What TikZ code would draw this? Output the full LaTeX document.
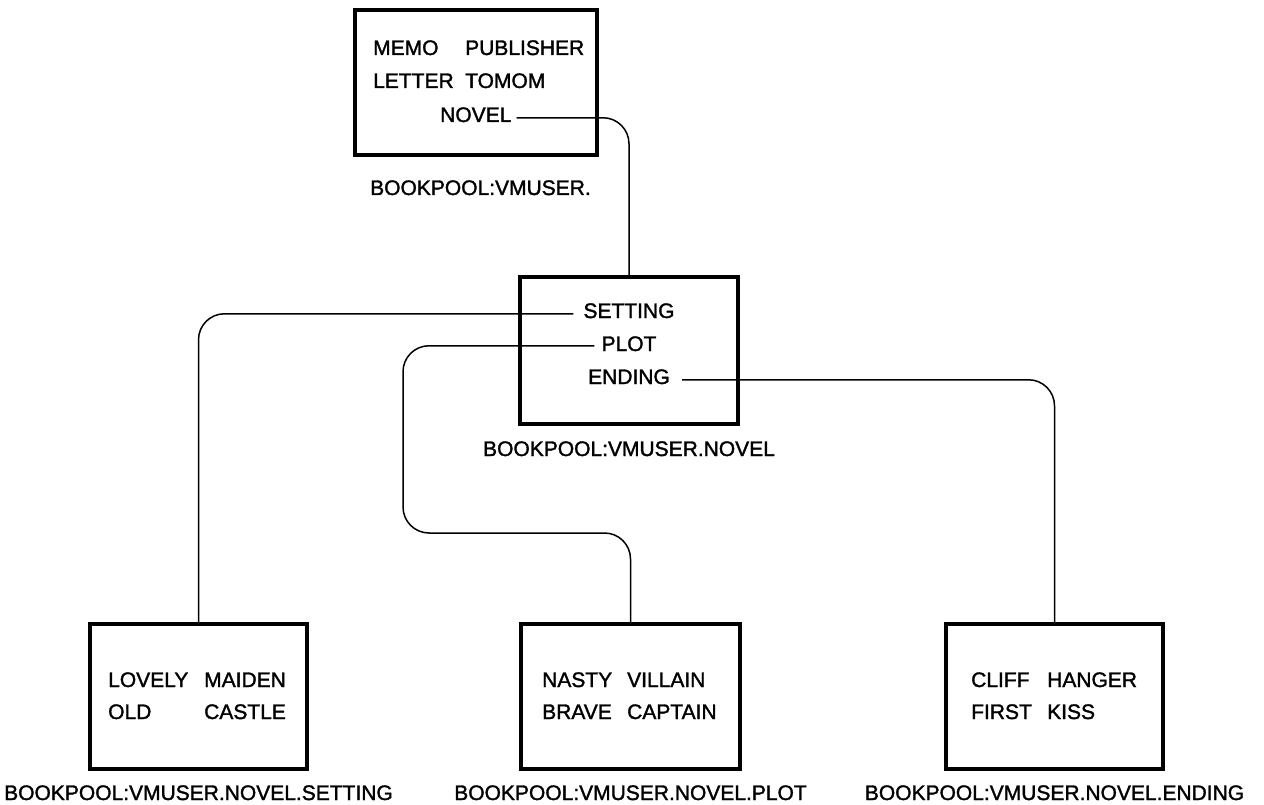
\documentclass[tikz,border=0pt]{standalone}
\usepackage{fontspec}
\setmainfont{Liberation Sans}[FakeBold=1.5]
\begin{document}
\begin{tikzpicture}[x=1pt,y=-1pt,
  box/.style={draw,line width=3.2pt,inner sep=0pt},
  conn/.style={line width=1.5pt,rounded corners=26pt},
  txt/.style={anchor=base west,inner sep=0pt,font=\fontsize{21}{25}\selectfont},
  ctxt/.style={anchor=base,inner sep=0pt,font=\fontsize{21}{25}\selectfont}]
\useasboundingbox (0,0) rectangle (1264,805);

% boxes
\node[box,minimum width=242pt,minimum height=145pt] (top) at (476,82.5) {};
\node[box,minimum width=218pt,minimum height=147pt] (mid) at (629,350.5) {};
\node[box,minimum width=217pt,minimum height=145pt] (bl) at (198.5,696.5) {};
\node[box,minimum width=219pt,minimum height=145pt] (bm) at (630.5,696.5) {};
\node[box,minimum width=217pt,minimum height=145pt] (br) at (1054.5,696.5) {};

% top directory
\node[txt] (memo) at (373,55) {MEMO};
\node[txt] (publisher) at (465,55) {PUBLISHER};
\node[txt] (letter) at (373,88) {LETTER};
\node[txt] (tomom) at (465,88) {TOMOM};
\node[txt] (novel) at (440,122) {NOVEL};
\node[txt] (ltop) at (370,195) {BOOKPOOL:VMUSER.};

% NOVEL directory
\node[ctxt] (setting) at (629,318) {SETTING};
\node[ctxt] (plot) at (629,351) {PLOT};
\node[ctxt] (ending) at (629,384) {ENDING};
\node[ctxt] (lmid) at (629,456) {BOOKPOOL:VMUSER.NOVEL};

% leaf directories
\node[txt] (lovely) at (108,687) {LOVELY};
\node[txt] (maiden) at (204,687) {MAIDEN};
\node[txt] (old) at (108,719) {OLD};
\node[txt] (castle) at (204,719) {CASTLE};
\node[ctxt] (lbl) at (198.5,800) {BOOKPOOL:VMUSER.NOVEL.SETTING};

\node[txt] (nasty) at (542,687) {NASTY};
\node[txt] (villain) at (627,687) {VILLAIN};
\node[txt] (brave) at (542,719) {BRAVE};
\node[txt] (captain) at (627,719) {CAPTAIN};
\node[ctxt] (lbm) at (630.5,800) {BOOKPOOL:VMUSER.NOVEL.PLOT};

\node[txt] (cliff) at (971,687) {CLIFF};
\node[txt] (hanger) at (1047,687) {HANGER};
\node[txt] (first) at (971,719) {FIRST};
\node[txt] (kiss) at (1047,719) {KISS};
\node[ctxt] (lbr) at (1054.5,800) {BOOKPOOL:VMUSER.NOVEL.ENDING};

% connectors
\coordinate (pbend) at (403,533);
\draw[conn] ([xshift=5pt,yshift=-3pt]novel.east) -| (mid.north);
\draw[conn] ([xshift=-10pt,yshift=-3pt]setting.west) -| (bl.north);
\draw[conn] ([xshift=-7pt,yshift=-2pt]plot.west) -| (pbend) -| (bm.north);
\draw[conn] ([xshift=12pt,yshift=-3pt]ending.east) -| (br.north);
\end{tikzpicture}
\end{document}
